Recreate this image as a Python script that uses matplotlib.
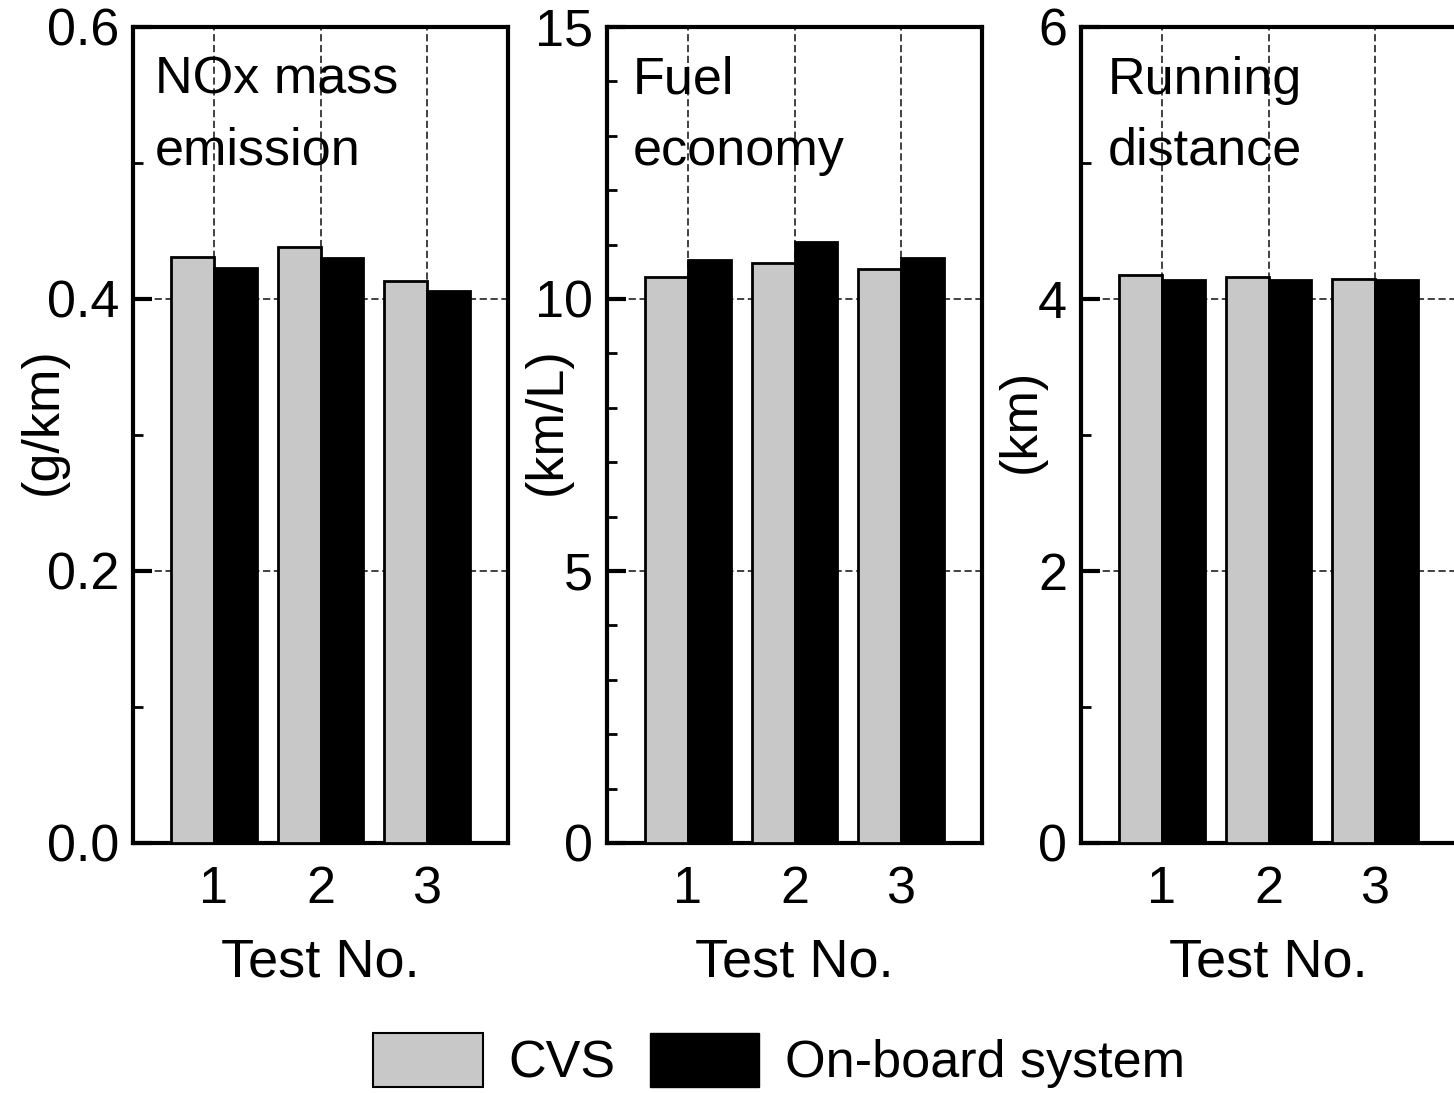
import numpy as np
import matplotlib
matplotlib.use("Agg")
import matplotlib.pyplot as plt
from matplotlib.patches import Patch
from matplotlib.ticker import MultipleLocator

plt.rcParams["font.family"] = ["Liberation Sans", "DejaVu Sans"]

tests = [1, 2, 3]
nox_cvs = [0.431, 0.438, 0.413]
nox_onboard = [0.4225, 0.430, 0.406]
fuel_cvs = [10.41, 10.67, 10.56]
fuel_onboard = [10.71, 11.04, 10.75]
dist_cvs = [4.18, 4.165, 4.15]
dist_onboard = [4.14, 4.14, 4.14]

panels = [
    ("NOx mass\nemission", "(g/km)", nox_cvs, nox_onboard, 0.6, 0.2, 0.1, "{:.1f}"),
    ("Fuel\neconomy", "(km/L)", fuel_cvs, fuel_onboard, 15, 5, 1, "{:.0f}"),
    ("Running\ndistance", "(km)", dist_cvs, dist_onboard, 6, 2, 1, "{:.0f}"),
]

FS = 37.5
GRAY = "#c8c8c8"
W, H = 1454, 1093

fig = plt.figure(figsize=(W / 100, H / 100), dpi=100)
lefts = [133, 607, 1081]
title_x = [0.058, 0.068, 0.072]
ylabel_x = [-0.173, -0.093, -0.093]
x = np.array(tests, dtype=float)
bw = 0.4

for i, (title, unit, cvs, onb, ymax, major, minor, fmt) in enumerate(panels):
    ax = fig.add_axes([lefts[i] / W, (H - 843) / H, 375 / W, 816 / H])
    ax.bar(x - bw / 2, cvs, bw, color=GRAY, edgecolor="black", linewidth=2, zorder=3)
    ax.bar(x + bw / 2, onb, bw, color="black", edgecolor="black", linewidth=2, zorder=3)
    ax.set_xlim(0.24, 3.76)
    ax.set_ylim(0, ymax)
    ax.yaxis.set_major_locator(MultipleLocator(major))
    ax.yaxis.set_minor_locator(MultipleLocator(minor))
    ax.yaxis.set_major_formatter(lambda v, p, f=fmt: f.format(v))
    ax.set_xticks(tests)
    ax.tick_params(axis="x", length=0, pad=16, labelsize=FS)
    ax.tick_params(axis="y", which="major", direction="in", length=14, width=3,
                   pad=10, labelsize=FS)
    ax.tick_params(axis="y", which="minor", direction="in", length=7, width=2)
    for sp in ax.spines.values():
        sp.set_linewidth(3)
    ax.grid(True, axis="both", which="major", linestyle=(0, (4, 2)), color="#333333",
            linewidth=1.3, zorder=0)
    ax.set_axisbelow(True)
    ax.set_xlabel("Test No.", fontsize=FS + 1.5, labelpad=17)
    ax.set_ylabel(unit, fontsize=FS)
    ax.yaxis.set_label_coords(ylabel_x[i], 0.517)
    ax.text(title_x[i], 0.965, title, transform=ax.transAxes, fontsize=FS, va="top",
            ha="left", linespacing=1.58, zorder=4)

handles = [Patch(facecolor=GRAY, edgecolor="black", linewidth=1.5, label="CVS"),
           Patch(facecolor="black", edgecolor="black", label="On-board system")]
fig.legend(handles=handles, loc="lower center", bbox_to_anchor=(0.536, -0.022), ncol=2,
           frameon=False, fontsize=FS, handlelength=2.1, handleheight=1.2,
           handletextpad=0.5, columnspacing=0.65, borderpad=0.05)

fig.savefig("out.png", dpi=100)
